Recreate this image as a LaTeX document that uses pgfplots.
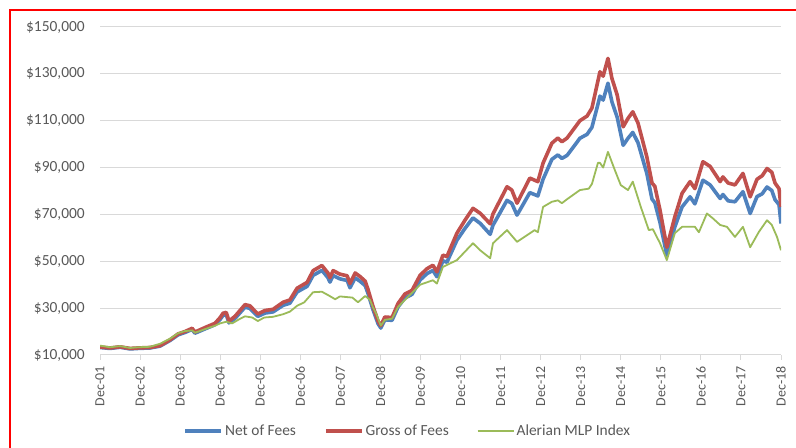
\documentclass[border=0pt]{standalone}
\usepackage{pgfplots}
\pgfplotsset{compat=1.18}
\usepackage{pgfplotstable}
\usepackage{fontspec}
\setmainfont{Carlito}
\definecolor{netc}{HTML}{4F81BD}
\definecolor{grossc}{HTML}{C0504D}
\definecolor{amlpc}{HTML}{9BBB59}
\definecolor{txtc}{HTML}{595959}
\definecolor{gridc}{HTML}{D9D9D9}

\pgfplotstableread{
t net gross
0 13.2 13.4
0.25 12.8 13.0
0.5 13.3 13.5
0.75 12.6 12.8
0.95 12.8 13.0
1.25 13.0 13.2
1.5 13.8 14.0
1.75 16.2 16.5
1.95 18.6 19.0
2.12 19.6 20.0
2.3 20.9 21.4
2.37 19.3 19.8
2.7 21.7 22.3
2.87 22.9 23.5
3.0 25.2 26.0
3.07 26.9 27.8
3.15 27.3 28.2
3.22 23.7 24.5
3.37 25.6 26.5
3.62 30.4 31.5
3.74 29.9 31.0
3.94 26.5 27.5
4.12 27.9 29.0
4.32 28.4 29.5
4.57 31.2 32.5
4.74 32.1 33.5
4.92 36.9 38.5
5.17 39.3 41.0
5.32 44.0 46.0
5.54 46.1 48.2
5.69 43.0 45.0
5.74 41.1 43.0
5.82 43.9 46.0
5.99 42.5 44.5
6.17 41.8 43.8
6.24 38.7 40.5
6.37 42.9 45.0
6.49 41.5 43.5
6.62 39.6 41.5
6.69 36.3 38.0
6.81 29.6 31.0
6.94 23.4 24.5
7.01 21.5 22.5
7.11 25.0 26.2
7.29 24.8 26.0
7.44 30.5 32.0
7.61 34.3 36.0
7.79 35.9 37.6
7.99 42.0 44.0
8.16 44.7 46.8
8.31 46.1 48.3
8.41 43.4 45.5
8.56 50.2 52.6
8.66 49.6 52.0
8.91 59.0 62.0
9.11 64.0 67.5
9.31 68.5 72.6
9.49 66.2 70.5
9.74 61.5 66.0
9.81 65.4 70.2
10.16 76.0 81.8
10.28 74.7 80.4
10.41 69.7 74.8
10.73 79.3 85.5
10.93 77.9 84.0
11.06 85.0 91.9
11.28 93.5 100.4
11.43 95.4 102.6
11.53 93.9 101.0
11.66 95.2 102.6
11.98 102.5 110.0
12.16 104.2 112.0
12.28 107.2 115.4
12.43 117.0 127.0
12.48 120.5 130.9
12.56 118.8 129.0
12.68 126.0 136.6
12.78 118.0 128.0
12.91 111.5 121.0
13.06 99.5 107.4
13.18 102.5 111.0
13.3 105.0 113.8
13.43 100.6 109.0
13.65 87.5 94.6
13.78 76.5 83.4
13.85 75.0 82.0
13.98 66.5 71.8
14.15 52.6 56.0
14.35 64.7 69.0
14.53 73.2 79.0
14.73 77.5 84.0
14.85 74.5 81.0
15.05 84.6 92.5
15.23 82.6 90.5
15.48 76.8 84.0
15.55 78.5 86.0
15.68 75.8 83.4
15.85 75.4 82.6
16.05 79.7 87.5
16.23 70.4 77.5
16.4 77.6 85.0
16.53 78.8 86.5
16.65 81.7 89.6
16.77 80.2 88.0
16.85 76.3 83.4
16.95 74.2 81.0
17.0 66.1 73.2
}\tblfund

\pgfplotstableread{
t amlp
0 14.0
0.25 13.3
0.5 13.8
0.75 13.0
0.95 13.3
1.25 13.5
1.5 14.8
1.75 17.0
1.95 19.3
2.12 20.2
2.3 20.5
2.37 19.5
2.7 21.5
2.87 22.5
3.0 23.5
3.15 24.2
3.3 23.5
3.5 25.5
3.62 26.5
3.8 26.0
3.94 24.5
4.1 26.0
4.32 26.3
4.57 27.4
4.74 28.5
4.92 31.0
5.1 32.5
5.32 36.8
5.54 37.0
5.7 35.5
5.87 33.8
5.99 35.0
6.3 34.5
6.44 32.5
6.62 35.2
6.74 33.5
6.81 30.5
6.9 27.4
7.01 22.5
7.11 25.0
7.29 25.5
7.44 30.5
7.7 35.0
7.99 40.0
8.31 41.9
8.41 40.5
8.56 47.6
8.91 50.5
9.31 57.7
9.49 54.7
9.74 51.3
9.81 57.7
10.16 63.3
10.41 58.3
10.85 63.3
10.93 62.4
11.06 73.2
11.28 75.4
11.43 76.0
11.53 74.8
11.66 76.5
11.98 80.4
12.2 81.0
12.28 83.0
12.43 92.0
12.48 92.0
12.56 90.0
12.68 96.7
12.85 89.0
13.0 82.5
13.18 80.4
13.3 84.0
13.5 73.2
13.7 63.3
13.8 63.7
13.98 57.7
14.15 50.5
14.35 62.0
14.53 64.7
14.85 64.7
14.95 62.4
15.15 70.4
15.3 68.3
15.48 65.5
15.65 64.7
15.85 60.4
16.05 64.7
16.23 56.0
16.45 62.6
16.65 67.5
16.77 65.5
16.9 60.4
17.0 54.7
}\tblamlp

\begin{document}
\begin{tikzpicture}[x=1bp,y=1bp]
\useasboundingbox (0,0) rectangle (796,448);
\clip (0,0) rectangle (796,448);
\fill[white] (0,0) rectangle (796,448);
\draw[red, line width=2.8bp] (10,-10) -- (10,438) -- (810,438);
\begin{axis}[
  at={(100bp,93bp)}, anchor=south west,
  scale only axis, width=681bp, height=328bp,
  xmin=0, xmax=17, ymin=10, ymax=150,
  axis lines*=left,
  y axis line style={draw=none},
  x axis line style={draw=gridc, line width=1bp},
  xtick={0,...,17},
  xticklabels={Dec-01,Dec-02,Dec-03,Dec-04,Dec-05,Dec-06,Dec-07,Dec-08,Dec-09,Dec-10,Dec-11,Dec-12,Dec-13,Dec-14,Dec-15,Dec-16,Dec-17,Dec-18},
  xtick align=outside,
  x tick style={draw=gridc, line width=1bp},
  major tick length=5bp,
  y tick style={draw=none},
  ytick={10,30,...,150},
  yticklabels={{\$10,000},{\$30,000},{\$50,000},{\$70,000},{\$90,000},{\$110,000},{\$130,000},{\$150,000}},
  ymajorgrids,
  grid style={draw=gridc, line width=1bp},
  xticklabel style={rotate=90, anchor=east, font=\fontsize{14}{16}\selectfont, text=txtc, inner sep=0pt, xshift=0bp},
  yticklabel style={font=\fontsize{15.5}{18}\selectfont, text=txtc, inner sep=0pt},
  xticklabel shift=6bp,
  yticklabel shift=15bp,
  legend columns=3,
  legend style={at={(0.452,-0.232)}, anchor=center, draw=none, fill=none,
    font=\fontsize{15.5}{18}\selectfont, text=txtc,
    /tikz/every even column/.append style={column sep=26bp}},
  legend image code/.code={\draw[#1] (0bp,0bp) -- (36bp,0bp);},
]
\addplot[netc, line width=3.6bp, line join=round] table[x=t, y=net] {\tblfund};
\addlegendentry{Net of Fees}
\addplot[grossc, line width=3.6bp, line join=round] table[x=t, y=gross] {\tblfund};
\addlegendentry{Gross of Fees}
\addplot[amlpc, line width=1.8bp, line join=round] table[x=t, y=amlp] {\tblamlp};
\addlegendentry{Alerian MLP Index}
\end{axis}
\end{tikzpicture}
\end{document}
